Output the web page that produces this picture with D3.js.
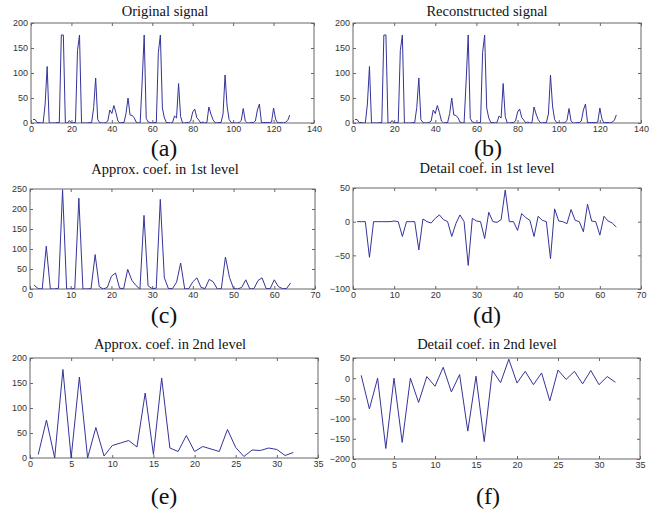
<!DOCTYPE html>
<html><head><meta charset="utf-8">
<script src="https://cdn.jsdelivr.net/npm/d3@7"></script>
<style>html,body{margin:0;padding:0;background:#fff;}svg{display:block;}</style>
</head><body>
<svg id="chart" width="666" height="511"></svg>
<script>
// ---- data ----
const originalSignal = [7,7,1,1,0,0,38,113,0,0,0,0,1,1,176,176,0,0,5,0,1,1,145,176,0,0,0,0,1,1,31,90,
  7,1,0,0,1,4,26,19,35,21,4,0,1,1,19,50,16,15,11,2,0,0,84,176,9,2,1,0,1,1,141,176,
  30,10,1,1,0,1,14,10,79,13,0,0,1,1,4,22,28,11,6,0,2,0,1,32,18,7,1,0,1,1,18,96,
  34,7,1,0,0,0,1,5,29,4,0,0,1,1,4,26,38,1,1,1,1,1,2,30,8,0,1,1,0,2,5,16];
const reconstructedSignal = [7,7,1,1,0,0,38,113,0,0,0,0,1,1,176,176,0,0,5,0,1,1,145,176,0,0,0,0,1,1,31,90,
  7,1,0,0,1,4,26,19,35,21,4,0,1,1,19,50,16,15,11,2,0,0,84,176,9,2,1,0,1,1,141,176,
  30,10,1,1,0,1,14,10,79,13,0,0,1,1,4,22,28,11,6,0,2,0,1,32,18,7,1,0,1,1,18,96,
  34,7,1,0,0,0,1,5,29,4,0,0,1,1,4,26,38,1,1,1,1,1,2,30,8,0,1,1,0,2,5,16];
const approx1 = [10,1,0,107,0,0,2,248,0,0,2,227,0,0,1,86,6,0,4,32,40,2,1,49,22,9,0,184,8,1,2,224,
  28,1,1,17,65,0,1,18,28,4,1,24,18,0,1,80,29,1,0,4,23,0,1,21,28,1,1,23,6,1,1,15];
const detail1 = [0,0,0,-53,0,0,0,0,0,1,0,-22,0,0,0,-42,4,0,-2,5,10,3,0,-22,-3,10,0,-65,5,1,0,-25,
  14,0,-1,3,47,0,0,-13,12,6,2,-22,8,2,0,-55,19,1,0,-3,18,2,0,-15,26,1,0,-20,8,1,-2,-8];
const approx2 = [7,76,0,177,0,162,0,61,4,25,30,35,22,130,7,160,20,13,45,13,23,18,13,57,21,3,16,15,20,17,5,11];
const detail2 = [7,-76,0,-174,0,-159,0,-60,4,-20,27,-34,9,-131,5,-157,19,-11,47,-12,17,-16,13,-56,20,-3,17,-14,19,-16,4,-10];

const titles = ["Original signal","Reconstructed signal","Approx. coef. in 1st level",
                "Detail coef. in 1st level","Approx. coef. in 2nd level","Detail coef. in 2nd level"];
const panelLabels = ["(a)","(b)","(c)","(d)","(e)","(f)"];
const xTicks128 = [0,20,40,60,80,100,120,140];
const xTicks64 = [0,10,20,30,40,50,60,70];
const xTicks32 = [0,5,10,15,20,25,30,35];
const yTicksSig = [0,50,100,150,200];
const yTicksA1 = [0,50,100,150,200,250];
const yTicksD1 = [-100,-50,0,50];
const yTicksA2 = [0,50,100,150,200];
const yTicksD2 = [-200,-150,-100,-50,0,50];

// ---- layout ----
const panels = [
  {data: originalSignal, xd:[0,140], yd:[0,200], xt:xTicks128, yt:yTicksSig, box:[31,314,23,123], tx:165, ty:16, lx:164, ly:156},
  {data: reconstructedSignal, xd:[0,140], yd:[0,200], xt:xTicks128, yt:yTicksSig, box:[353,641,23,123], tx:487, ty:16, lx:488, ly:156},
  {data: approx1, xd:[0,70], yd:[0,250], xt:xTicks64, yt:yTicksA1, box:[30,315,189,289], tx:165, ty:174, lx:164, ly:323},
  {data: detail1, xd:[0,70], yd:[-100,50], xt:xTicks64, yt:yTicksD1, box:[353,641,188,289], tx:487, ty:173, lx:487, ly:323},
  {data: approx2, xd:[0,35], yd:[0,200], xt:xTicks32, yt:yTicksA2, box:[30,318,358,458], tx:170, ty:349, lx:164, ly:504},
  {data: detail2, xd:[0,35], yd:[-200,50], xt:xTicks32, yt:yTicksD2, box:[353,640,358,459], tx:487, ty:349, lx:488, ly:504}
];

const svg = d3.select("#chart");
const axisColor = "#666";
const tickLen = 3;

panels.forEach((p, i) => {
  const [x0, x1, y0, y1] = p.box;
  const x = d3.scaleLinear().domain(p.xd).range([x0, x1]);
  const y = d3.scaleLinear().domain(p.yd).range([y1, y0]);
  const g = svg.append("g");

  const clipId = "clip" + i;
  svg.append("clipPath").attr("id", clipId).append("rect")
    .attr("x", x0).attr("y", y0).attr("width", x1 - x0).attr("height", y1 - y0);

  const fmt = d3.format("d");
  const bottom = g.append("g").attr("transform", `translate(0,${y1})`)
    .call(d3.axisBottom(x).tickValues(p.xt).tickFormat(fmt).tickSizeInner(-tickLen).tickSizeOuter(0).tickPadding(3));
  const top = g.append("g").attr("transform", `translate(0,${y0})`)
    .call(d3.axisTop(x).tickValues(p.xt).tickFormat("").tickSizeInner(-tickLen).tickSizeOuter(0));
  const left = g.append("g").attr("transform", `translate(${x0},0)`)
    .call(d3.axisLeft(y).tickValues(p.yt).tickFormat(fmt).tickSizeInner(-tickLen).tickSizeOuter(0).tickPadding(3));
  const right = g.append("g").attr("transform", `translate(${x1},0)`)
    .call(d3.axisRight(y).tickValues(p.yt).tickFormat("").tickSizeInner(-tickLen).tickSizeOuter(0));
  [bottom, top, left, right].forEach(a => {
    a.select(".domain").remove();
    a.selectAll(".tick line").attr("stroke", axisColor);
    a.selectAll("text").attr("fill", "#333").style("font-family", "'Liberation Sans', Arial, sans-serif").style("font-size", "9px");
  });
  bottom.selectAll("text").attr("dy", "0.71em");

  g.append("rect").attr("x", x0).attr("y", y0).attr("width", x1 - x0).attr("height", y1 - y0)
    .attr("fill", "none").attr("stroke", axisColor).attr("stroke-width", 1);

  const line = d3.line().x((d, k) => x(k + 1)).y(d => y(d));
  g.append("path").datum(p.data).attr("d", line)
    .attr("clip-path", `url(#${clipId})`)
    .attr("fill", "none").attr("stroke", "#34349a").attr("stroke-width", 1);

  svg.append("text").attr("x", p.tx).attr("y", p.ty).attr("text-anchor", "middle")
    .style("font-family", "'Liberation Serif', 'Times New Roman', serif").style("font-size", "14.5px")
    .attr("fill", "#111").text(titles[i]);
  svg.append("text").attr("x", p.lx).attr("y", p.ly).attr("text-anchor", "middle")
    .style("font-family", "'Liberation Serif', 'Times New Roman', serif").style("font-size", "24px")
    .attr("fill", "#111").text(panelLabels[i]);
});
</script>
</body></html>
